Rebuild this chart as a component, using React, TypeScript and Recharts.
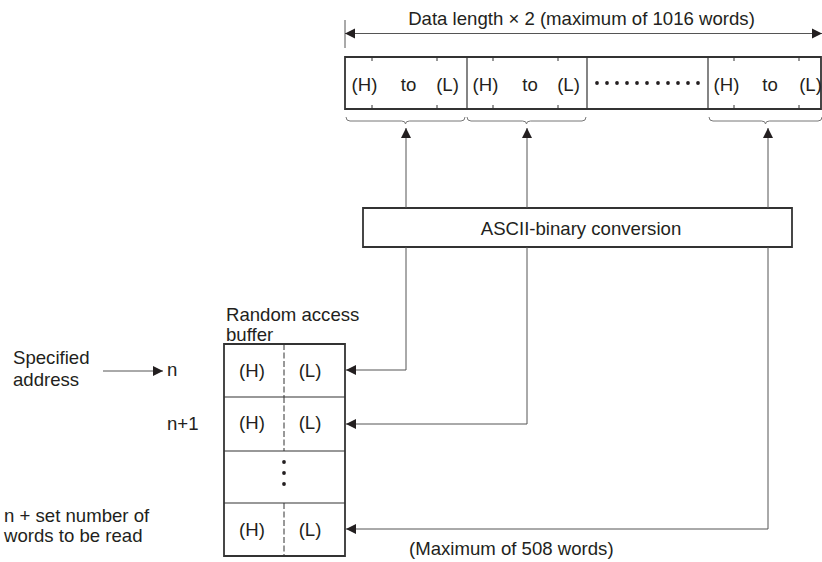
import { ComposedChart, ReferenceArea, ReferenceLine, Scatter, XAxis, YAxis } from "recharts";

const WIDTH = 822;
const HEIGHT = 562;

// diagram coordinates (x to the right, y downwards), one unit = one pixel of the reference
const boxes = [
  { x1: 345, y1: 57, x2: 821, y2: 109 },
  { x1: 363, y1: 208, x2: 792, y2: 247 },
  { x1: 224, y1: 344, x2: 345, y2: 556 }
];

const cellDividers = [467, 587, 708];
const cellTicks = [372, 437, 493, 558, 734, 799];
const bufferRows = [397, 451, 503];
const dashedParts = [
  [344, 397],
  [397, 451],
  [503, 556]
];

const braces = [
  [346, 465],
  [467, 586],
  [709, 822]
];

const arrows = [
  { x1: 345, y1: 33.5, x2: 822, y2: 33.5, both: true },
  { x1: 406, y1: 208, x2: 406, y2: 128 },
  { x1: 527, y1: 208, x2: 527, y2: 128 },
  { x1: 768, y1: 208, x2: 768, y2: 128 },
  { x1: 406, y1: 370, x2: 346, y2: 370 },
  { x1: 527, y1: 424, x2: 346, y2: 424 },
  { x1: 768, y1: 529, x2: 346, y2: 529 },
  { x1: 103, y1: 371, x2: 163, y2: 371 }
];

const connectors = [
  { x1: 345, y1: 20, x2: 345, y2: 48 },
  { x1: 406, y1: 247, x2: 406, y2: 370 },
  { x1: 527, y1: 247, x2: 527, y2: 424 },
  { x1: 768, y1: 247, x2: 768, y2: 529 }
];

const rowDots = [597, 607, 617, 627, 637, 647, 658, 668, 678, 688, 698].map((x) => ({ x, y: 83 }));
const bufferDots = [462, 473, 484].map((y) => ({ x: 284, y }));

const labels = [
  { x: 581.5, y: 25, text: "Data length \u00d7 2 (maximum of 1016 words)", anchor: "middle" },
  { x: 364.5, y: 91, text: "(H)", anchor: "middle" },
  { x: 408.5, y: 91, text: "to", anchor: "middle" },
  { x: 447.5, y: 91, text: "(L)", anchor: "middle" },
  { x: 485.5, y: 91, text: "(H)", anchor: "middle" },
  { x: 530, y: 91, text: "to", anchor: "middle" },
  { x: 568.5, y: 91, text: "(L)", anchor: "middle" },
  { x: 726.5, y: 91, text: "(H)", anchor: "middle" },
  { x: 770, y: 91, text: "to", anchor: "middle" },
  { x: 810.5, y: 91, text: "(L)", anchor: "middle" },
  { x: 581, y: 235, text: "ASCII-binary conversion", anchor: "middle" },
  { x: 226, y: 321, text: "Random access", anchor: "start" },
  { x: 226, y: 341, text: "buffer", anchor: "start" },
  { x: 13, y: 364, text: "Specified", anchor: "start" },
  { x: 13, y: 386, text: "address", anchor: "start" },
  { x: 167, y: 376, text: "n", anchor: "start" },
  { x: 167, y: 430, text: "n+1", anchor: "start" },
  { x: 252, y: 377, text: "(H)", anchor: "middle" },
  { x: 310, y: 377, text: "(L)", anchor: "middle" },
  { x: 252, y: 429, text: "(H)", anchor: "middle" },
  { x: 310, y: 429, text: "(L)", anchor: "middle" },
  { x: 252, y: 536, text: "(H)", anchor: "middle" },
  { x: 310, y: 536, text: "(L)", anchor: "middle" },
  { x: 4, y: 522, text: "n + set number of", anchor: "start" },
  { x: 4, y: 542, text: "words to be read", anchor: "start" },
  { x: 409, y: 555, text: "(Maximum of 508 words)", anchor: "start" }
];

const INK = "#231f20";
const BOX = "#333";
const WIRE = "#555";

function head(x1: number, y1: number, x2: number, y2: number) {
  const dx = x2 - x1;
  const dy = y2 - y1;
  const len = Math.hypot(dx, dy) || 1;
  const ux = dx / len;
  const uy = dy / len;
  const bx = x2 - ux * 10;
  const by = y2 - uy * 10;
  return `${x2},${y2} ${bx - uy * 5},${by + ux * 5} ${bx + uy * 5},${by - ux * 5}`;
}

function arrowShape(both: boolean) {
  return (p: any) => (
    <g>
      <line x1={p.x1} y1={p.y1} x2={p.x2} y2={p.y2} stroke={WIRE} strokeWidth={1} />
      <polygon points={head(p.x1, p.y1, p.x2, p.y2)} fill={INK} />
      {both && <polygon points={head(p.x2, p.y2, p.x1, p.y1)} fill={INK} />}
    </g>
  );
}

function braceShape(p: any) {
  const { x1, x2, y1 } = p;
  const mid = (x1 + x2) / 2;
  const y = y1 + 4;
  const d = `M${x1},${y1} Q${x1},${y} ${x1 + 4},${y} L${mid - 4},${y} Q${mid},${y} ${mid},${y + 3} Q${mid},${y} ${mid + 4},${y} L${x2 - 4},${y} Q${x2},${y} ${x2},${y1}`;
  return <path d={d} fill="none" stroke="#777" strokeWidth={1} />;
}

function textShape(p: any) {
  return (
    <text
      x={p.cx}
      y={p.cy}
      textAnchor={p.payload.anchor}
      fill={INK}
      fontSize={18.6}
      fontFamily="'Liberation Sans', Arial, sans-serif"
    >
      {p.payload.text}
    </text>
  );
}

function dotShape(p: any) {
  return <circle cx={p.cx} cy={p.cy} r={1.9} fill={INK} />;
}

export default function App() {
  return (
    <div style={{ position: "absolute", left: 0, top: 0, background: "#fff" }}>
      <ComposedChart width={WIDTH} height={HEIGHT} margin={{ top: 0, right: 0, bottom: 0, left: 0 }}>
        <XAxis type="number" dataKey="x" domain={[0, WIDTH]} allowDataOverflow hide />
        <YAxis type="number" dataKey="y" domain={[0, HEIGHT]} allowDataOverflow reversed hide />

        {boxes.map((b, i) => (
          <ReferenceArea
            key={`box-${i}`}
            x1={b.x1}
            x2={b.x2}
            y1={b.y1}
            y2={b.y2}
            fill="#fff"
            fillOpacity={1}
            stroke={BOX}
            strokeWidth={1.8}
          />
        ))}

        {cellDividers.map((x) => (
          <ReferenceLine key={`div-${x}`} segment={[{ x, y: 57 }, { x, y: 109 }]} stroke={BOX} strokeWidth={1.2} />
        ))}
        {cellTicks.map((x) => (
          <ReferenceLine key={`tt-${x}`} segment={[{ x, y: 57 }, { x, y: 61 }]} stroke={BOX} strokeWidth={1} />
        ))}
        {cellTicks.map((x) => (
          <ReferenceLine key={`tb-${x}`} segment={[{ x, y: 105 }, { x, y: 109 }]} stroke={BOX} strokeWidth={1} />
        ))}

        {bufferRows.map((y) => (
          <ReferenceLine key={`row-${y}`} segment={[{ x: 224, y }, { x: 345, y }]} stroke={BOX} strokeWidth={1.2} />
        ))}
        {dashedParts.map(([a, b]) => (
          <ReferenceLine
            key={`dash-${a}`}
            segment={[{ x: 284, y: a }, { x: 284, y: b }]}
            stroke={BOX}
            strokeWidth={1}
            strokeDasharray="6 2.5"
          />
        ))}

        {braces.map(([a, b]) => (
          <ReferenceLine key={`brace-${a}`} segment={[{ x: a, y: 117 }, { x: b, y: 117 }]} shape={braceShape} />
        ))}

        {connectors.map((c, i) => (
          <ReferenceLine
            key={`con-${i}`}
            segment={[{ x: c.x1, y: c.y1 }, { x: c.x2, y: c.y2 }]}
            stroke={WIRE}
            strokeWidth={1}
          />
        ))}
        {arrows.map((a, i) => (
          <ReferenceLine
            key={`arr-${i}`}
            segment={[{ x: a.x1, y: a.y1 }, { x: a.x2, y: a.y2 }]}
            shape={arrowShape(!!a.both)}
          />
        ))}

        <Scatter data={rowDots} shape={dotShape} isAnimationActive={false} />
        <Scatter data={bufferDots} shape={dotShape} isAnimationActive={false} />
        <Scatter data={labels} shape={textShape} isAnimationActive={false} />
      </ComposedChart>
    </div>
  );
}
